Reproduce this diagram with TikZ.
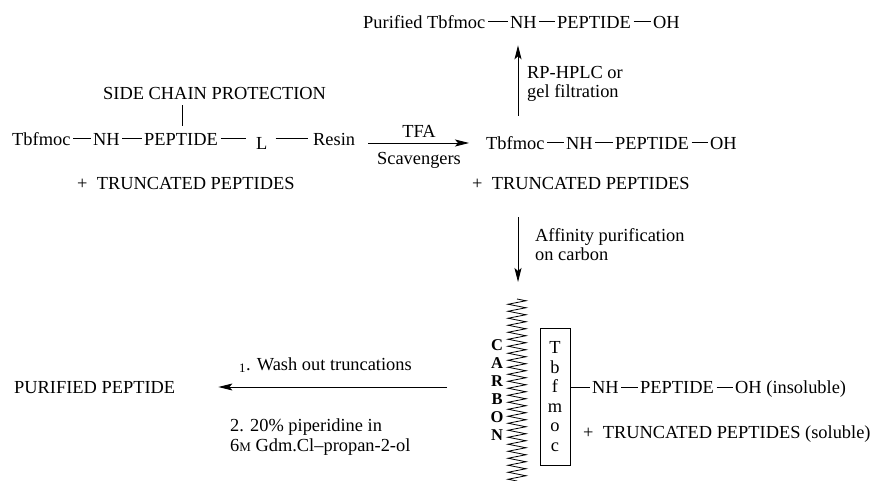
\documentclass[tikz,border=0pt]{standalone}
\usepackage{fontspec}
\setmainfont{Liberation Serif}
\usetikzlibrary{arrows.meta,decorations.pathmorphing,positioning}
\tikzstyle{grp}=[inner sep=0pt, text height=12.2pt, text depth=0pt, anchor=west]
\tikzstyle{blk}=[inner sep=0pt, anchor=north west, align=left]
\tikzstyle{bond}=[line width=1pt, shorten <=2.5pt, shorten >=2.5pt]
\tikzstyle{rxn}=[line width=0.9pt, -{Stealth[length=14pt,width=7pt,inset=3pt]}]

\begin{document}
\begin{tikzpicture}[x=1pt, y=-1pt, font=\fontsize{18.4}{19.5}\selectfont]
    \useasboundingbox (0,0) rectangle (875,481);
    \coordinate (ax) at (518,0);
    \coordinate (sc) at (182,0);

    % Purified product on top
    \node[grp] (ptb) at (363,22) {Purified Tbfmoc};
    \node[grp] (pnh) at (510,22) {NH};
    \node[grp] (ppep) at (557,22) {PEPTIDE};
    \node[grp] (poh) at (653,22) {OH};
    \path[bond] (ptb) edge (pnh) (pnh) edge (ppep) (ppep) edge (poh);

    % Resin bound peptide
    \node[grp] (side) at (103,93) {SIDE CHAIN PROTECTION};
    \node[grp] (tb1) at (12,139) {Tbfmoc};
    \node[grp] (nh1) at (93,139) {NH};
    \node[grp] (pep1) at (144,139) {PEPTIDE};
    \node[grp] (lnk) at (256,139) {\raisebox{-4pt}{L}};
    \node[grp] (res) at (313,139) {Resin};
    \path[bond] (tb1) edge (nh1) (nh1) edge (pep1);
    \draw[bond, shorten >=10pt] (pep1) -- (lnk);
    \draw[bond, shorten <=8pt, shorten >=5pt] (lnk) -- (res);
    \draw[line width=1pt, shorten <=6pt, shorten >=7pt] (side.south -| sc) -- (pep1.north -| sc);
    \node[grp] (tr1) at (77,183) {+\enspace TRUNCATED PEPTIDES};

    % Cleaved peptide
    \node[grp] (tb2) at (486,143) {Tbfmoc};
    \node[grp] (nh2) at (566,143) {NH};
    \node[grp] (pep2) at (615,143) {PEPTIDE};
    \node[grp] (oh2) at (710,143) {OH};
    \path[bond] (tb2) edge (nh2) (nh2) edge (pep2) (pep2) edge (oh2);
    \node[grp] (tr2) at (472,183) {+\enspace TRUNCATED PEPTIDES};

    % Cleavage
    \draw[rxn, shorten <=13pt, shorten >=17pt] (res.east |- tb2.west) -- (tb2.west);
    \node[grp, anchor=center] (tfa) at (419,131) {TFA};
    \node[grp, anchor=center] (scav) at (419,158) {Scavengers};

    % HPLC up
    \draw[rxn, shorten <=21pt, shorten >=17pt] (tb2.north -| ax) -- (pnh.south -| ax);
    \node[blk] (hplc) at (527,66) {RP-HPLC or\\gel filtration};

    % Carbon
    \coordinate (ctop) at (517,299);
    \coordinate (cbot) at (517,483);
    \draw[rxn, shorten <=28pt, shorten >=17pt] (tr2.south -| ax) -- (ctop -| ax);
    \node[blk] (aff) at (535,228) {Affinity purification\\on carbon};
    \draw[line width=0.8pt, decorate, decoration={zigzag, segment length=7pt, amplitude=9pt}] (ctop) -- (cbot);
    \node[inner sep=0pt, align=center, font=\fontsize{16.5}{18}\selectfont\bfseries] (carb) at (497,390) {C\\A\\R\\B\\O\\N};
    \node[draw, line width=0.8pt, inner sep=0pt, minimum width=30pt, minimum height=137pt,
          align=center, font=\fontsize{18.4}{19.5}\selectfont] (tbox) at (555,396.5) {T\\b\\f\\m\\o\\c};
    \node[grp] (nh3) at (592,387) {NH};
    \node[grp] (pep3) at (640,387) {PEPTIDE};
    \node[grp] (oh3) at (735,387) {OH (insoluble)};
    \draw[line width=1pt, shorten >=2.5pt] (tbox.east |- nh3.west) -- (nh3.west);
    \path[bond] (nh3) edge (pep3) (pep3) edge (oh3);
    \node[grp] (tr3) at (583,432) {+\enspace TRUNCATED PEPTIDES (soluble)};

    % Deprotection
    \coordinate (wst) at (447,387);
    \node[grp] (pur) at (14,387) {PURIFIED PEPTIDE};
    \draw[rxn, shorten >=43pt] (wst) -- (pur);
    \node[grp] (wash) at (239,364) {\textsubscript{1}. Wash out truncations};
    \node[blk, font=\fontsize{18.4}{20}\selectfont] (pip) at (230,419) {2. 20\% piperidine in\\6{\fontsize{13}{13}\selectfont M} Gdm.Cl--propan-2-ol};
\end{tikzpicture}
\end{document}
